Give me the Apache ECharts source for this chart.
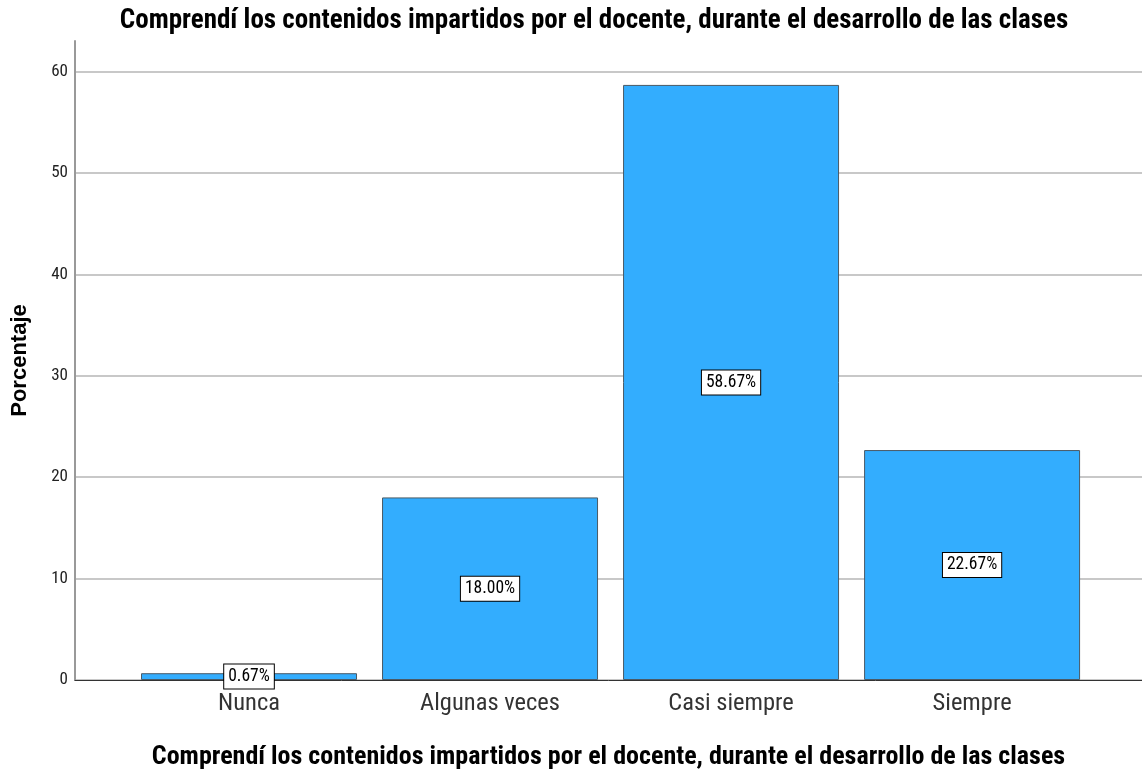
<!DOCTYPE html>
<html>
<head>
<meta charset="utf-8">
<script src="https://cdn.jsdelivr.net/npm/echarts@6/dist/echarts.min.js"></script>
<style>
  html, body { margin: 0; padding: 0; background: #fff; }
  #chart { width: 1142px; height: 771px; }
</style>
</head>
<body>
<div id="chart"></div>
<script>
// categorías y porcentajes
const categories = ['Nunca', 'Algunas veces', 'Casi siempre', 'Siempre']
const percentages = [0.67, 18.00, 58.67, 22.67]
const yTicks = [0, 10, 20, 30, 40, 50, 60]
const titleText = 'Comprendí los contenidos impartidos por el docente, durante el desarrollo de las clases'

const chart = echarts.init(document.getElementById('chart'), null, { renderer: 'canvas' })

const option = {
  animation: false,
  textStyle: { fontFamily: 'Roboto Condensed' },
  title: {
    text: titleText,
    left: 589,
    textAlign: 'center',
    top: 3,
    textStyle: { fontSize: 27, fontWeight: 'bold', color: '#000', fontFamily: 'Roboto Condensed' }
  },
  grid: { left: 75, right: 0, top: 41, bottom: 91, outerBoundsMode: 'none' },
  xAxis: {
    type: 'value',
    min: -0.722,
    max: 3.705,
    name: titleText,
    nameLocation: 'middle',
    nameGap: 64,
    nameTextStyle: { fontSize: 26, fontWeight: 'bold', color: '#000', fontFamily: 'Roboto Condensed' },
    splitLine: { show: false },
    axisLine: { show: true, lineStyle: { color: '#333', width: 1 } },
    axisTick: { show: false },
    axisLabel: {
      customValues: [0, 1, 2, 3],
      formatter: v => categories[Math.round(v)],
      fontSize: 24.5,
      color: '#333',
      margin: 11,
      fontFamily: 'Roboto Condensed'
    }
  },
  yAxis: {
    type: 'value',
    min: 0,
    max: 63,
    name: 'Porcentaje',
    nameLocation: 'middle',
    nameGap: 44,
    nameTextStyle: { fontSize: 22, fontWeight: 'bold', color: '#000', fontFamily: 'Liberation Sans' },
    axisLine: { show: true, onZero: false, lineStyle: { color: '#999', width: 2 } },
    axisTick: { show: false },
    axisLabel: { customValues: yTicks, fontSize: 17, color: '#222', margin: 7, fontFamily: 'Roboto Condensed' },
    splitLine: { show: true, showMaxLine: false, lineStyle: { color: '#c8c8c8', width: 2 } }
  },
  series: [
    {
      type: 'bar',
      barWidth: 216,
      data: percentages.map((v, i) => [i, v]),
      itemStyle: { color: '#33adfe', borderColor: '#4a5a66', borderWidth: 1 },
      label: {
        show: true,
        position: 'inside',
        formatter: p => p.value[1].toFixed(2) + '%',
        fontSize: 17.5,
        lineHeight: 18,
        fontFamily: 'Roboto Condensed',
        color: '#000',
        backgroundColor: '#fff',
        borderColor: '#000',
        borderWidth: 1,
        padding: [3, 4, 3, 4]
      }
    }
  ]
}

chart.setOption(option)
</script>
</body>
</html>
